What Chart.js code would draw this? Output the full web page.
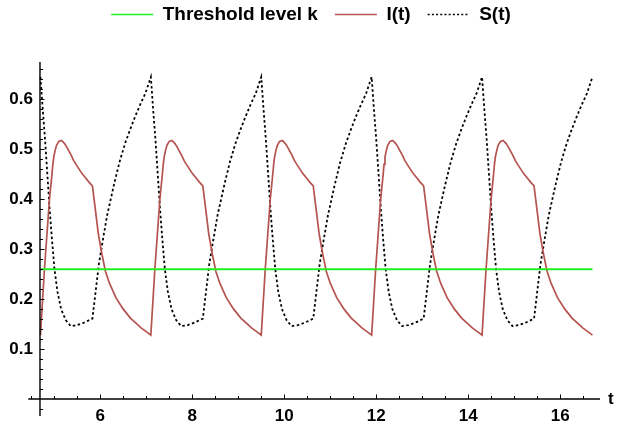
<!DOCTYPE html>
<html>
<head>
<meta charset="utf-8">
<script src="https://cdn.jsdelivr.net/npm/chart.js@4.4.1/dist/chart.umd.min.js"></script>
<style>
html,body{margin:0;padding:0;background:#fff;}
#wrap{width:617px;height:428px;}
</style>
</head>
<body>
<div id="wrap"><canvas id="c" width="617" height="428"></canvas></div>
<script>
// ---- data ----
const tI = [
 4.7, 4.787, 4.896, 4.95, 4.97, 4.99, 5.02, 5.05, 5.10, 5.157, 5.22, 5.27, 5.31, 5.37, 5.42, 5.48, 5.53, 5.60, 5.68, 5.75, 5.83, 5.90, 5.96, 6.037, 6.113, 6.20, 6.34, 6.50, 6.656, 6.80, 6.895, 7.00,
 7.1, 7.187, 7.296, 7.35, 7.37, 7.39, 7.42, 7.45, 7.50, 7.557, 7.62, 7.67, 7.71, 7.77, 7.82, 7.88, 7.93, 8.00, 8.08, 8.15, 8.23, 8.30, 8.36, 8.437, 8.513, 8.60, 8.74, 8.90, 9.056, 9.20, 9.295, 9.40,
 9.5, 9.587, 9.696, 9.75, 9.77, 9.79, 9.82, 9.85, 9.90, 9.957, 10.02, 10.07, 10.11, 10.17, 10.22, 10.28, 10.33, 10.40, 10.48, 10.55, 10.63, 10.70, 10.76, 10.837, 10.913, 11.00, 11.14, 11.30, 11.456, 11.60, 11.695, 11.80,
 11.9, 11.987, 12.096, 12.15, 12.17, 12.19, 12.22, 12.25, 12.30, 12.357, 12.42, 12.47, 12.51, 12.57, 12.62, 12.68, 12.73, 12.80, 12.88, 12.95, 13.03, 13.10, 13.16, 13.237, 13.313, 13.40, 13.54, 13.70, 13.856, 14.00, 14.095, 14.20,
 14.3, 14.387, 14.496, 14.55, 14.57, 14.59, 14.62, 14.65, 14.70, 14.757, 14.82, 14.87, 14.91, 14.97, 15.02, 15.08, 15.13, 15.20, 15.28, 15.35, 15.43, 15.50, 15.56, 15.637, 15.713, 15.80, 15.94, 16.10, 16.256, 16.40, 16.495, 16.60,
 16.7
];
const iValues = [
 0.128, 0.26, 0.40, 0.45, 0.47, 0.485, 0.498, 0.508, 0.516, 0.518, 0.512, 0.505, 0.498, 0.488, 0.478, 0.469, 0.462, 0.452, 0.443, 0.435, 0.427, 0.375, 0.33, 0.29, 0.256, 0.232, 0.203, 0.18, 0.162, 0.15, 0.142, 0.135,
 0.128, 0.26, 0.40, 0.45, 0.47, 0.485, 0.498, 0.508, 0.516, 0.518, 0.512, 0.505, 0.498, 0.488, 0.478, 0.469, 0.462, 0.452, 0.443, 0.435, 0.427, 0.375, 0.33, 0.29, 0.256, 0.232, 0.203, 0.18, 0.162, 0.15, 0.142, 0.135,
 0.128, 0.26, 0.40, 0.45, 0.47, 0.485, 0.498, 0.508, 0.516, 0.518, 0.512, 0.505, 0.498, 0.488, 0.478, 0.469, 0.462, 0.452, 0.443, 0.435, 0.427, 0.375, 0.33, 0.29, 0.256, 0.232, 0.203, 0.18, 0.162, 0.15, 0.142, 0.135,
 0.128, 0.26, 0.40, 0.45, 0.47, 0.485, 0.498, 0.508, 0.516, 0.518, 0.512, 0.505, 0.498, 0.488, 0.478, 0.469, 0.462, 0.452, 0.443, 0.435, 0.427, 0.375, 0.33, 0.29, 0.256, 0.232, 0.203, 0.18, 0.162, 0.15, 0.142, 0.135,
 0.128, 0.26, 0.40, 0.45, 0.47, 0.485, 0.498, 0.508, 0.516, 0.518, 0.512, 0.505, 0.498, 0.488, 0.478, 0.469, 0.462, 0.452, 0.443, 0.435, 0.427, 0.375, 0.33, 0.29, 0.256, 0.232, 0.203, 0.18, 0.162, 0.15, 0.142, 0.135,
 0.128
];
const tS = [
 4.7, 4.75, 4.8, 4.865, 4.9, 4.95, 5.005, 5.07, 5.15, 5.25, 5.36, 5.5, 5.65, 5.83, 5.97, 6.06, 6.15, 6.30, 6.42, 6.54, 6.65, 6.76, 6.87, 6.98,
 7.1, 7.15, 7.2, 7.265, 7.3, 7.35, 7.405, 7.47, 7.55, 7.65, 7.76, 7.9, 8.05, 8.23, 8.37, 8.46, 8.55, 8.70, 8.82, 8.94, 9.05, 9.16, 9.27, 9.38,
 9.5, 9.55, 9.6, 9.665, 9.7, 9.75, 9.805, 9.87, 9.95, 10.05, 10.16, 10.3, 10.45, 10.63, 10.77, 10.86, 10.95, 11.10, 11.22, 11.34, 11.45, 11.56, 11.67, 11.78,
 11.9, 11.95, 12.0, 12.065, 12.1, 12.15, 12.205, 12.27, 12.35, 12.45, 12.56, 12.7, 12.85, 13.03, 13.17, 13.26, 13.35, 13.50, 13.62, 13.74, 13.85, 13.96, 14.07, 14.18,
 14.3, 14.35, 14.4, 14.465, 14.5, 14.55, 14.605, 14.67, 14.75, 14.85, 14.96, 15.1, 15.25, 15.43, 15.57, 15.66, 15.75, 15.90, 16.02, 16.14, 16.25, 16.36, 16.47, 16.58,
 16.7
];
const sValues = [
 0.645, 0.58, 0.52, 0.43, 0.38, 0.32, 0.26, 0.215, 0.18, 0.158, 0.146, 0.148, 0.153, 0.161, 0.27, 0.32, 0.368, 0.43, 0.475, 0.512, 0.54, 0.566, 0.59, 0.612,
 0.645, 0.58, 0.52, 0.43, 0.38, 0.32, 0.26, 0.215, 0.18, 0.158, 0.146, 0.148, 0.153, 0.161, 0.27, 0.32, 0.368, 0.43, 0.475, 0.512, 0.54, 0.566, 0.59, 0.612,
 0.645, 0.58, 0.52, 0.43, 0.38, 0.32, 0.26, 0.215, 0.18, 0.158, 0.146, 0.148, 0.153, 0.161, 0.27, 0.32, 0.368, 0.43, 0.475, 0.512, 0.54, 0.566, 0.59, 0.612,
 0.645, 0.58, 0.52, 0.43, 0.38, 0.32, 0.26, 0.215, 0.18, 0.158, 0.146, 0.148, 0.153, 0.161, 0.27, 0.32, 0.368, 0.43, 0.475, 0.512, 0.54, 0.566, 0.59, 0.612,
 0.645, 0.58, 0.52, 0.43, 0.38, 0.32, 0.26, 0.215, 0.18, 0.158, 0.146, 0.148, 0.153, 0.161, 0.27, 0.32, 0.368, 0.43, 0.475, 0.512, 0.54, 0.566, 0.59, 0.612,
 0.645
];
const thresholdK = 0.26;
const tRange = [4.7, 16.7];
const xTickLabels = [6, 8, 10, 12, 14, 16];
const yTickLabels = [0.1, 0.2, 0.3, 0.4, 0.5, 0.6];
const xMinorTicks = [4.5,5,5.5,6,6.5,7,7.5,8,8.5,9,9.5,10,10.5,11,11.5,12,12.5,13,13.5,14,14.5,15,15.5,16,16.5];
const yMinorTicks = [-0.02,0.02,0.04,0.06,0.08,0.1,0.12,0.14,0.16,0.18,0.2,0.22,0.24,0.26,0.28,0.3,0.32,0.34,0.36,0.38,0.4,0.42,0.44,0.46,0.48,0.5,0.52,0.54,0.56,0.58,0.6,0.62,0.64,0.66];
const seriesNames = ['Threshold level k', 'I(t)', 'S(t)'];
const axisOrigin = {x: 4.69, y: 0};
const axisExtent = {xFrom: 4.435, xTo: 16.864, yFrom: -0.034, yTo: 0.675};

// ---- build ----
const pts = (xs, ys) => xs.map((x, i) => ({x, y: ys[i]}));
const FONT = "'Liberation Sans', Arial, sans-serif";
const LEGEND_SHIFT = 11;

const axesPlugin = {
  id: 'mmaAxes',
  afterDatasetsDraw(chart) {
    const {ctx, scales: {x, y}} = chart;
    const x0 = x.getPixelForValue(axisOrigin.x);
    const y0 = y.getPixelForValue(axisOrigin.y);
    const xa = x.getPixelForValue(axisExtent.xFrom), xb = x.getPixelForValue(axisExtent.xTo);
    const ya = y.getPixelForValue(axisExtent.yFrom), yb = y.getPixelForValue(axisExtent.yTo);
    ctx.save();
    ctx.strokeStyle = '#000';
    ctx.lineWidth = 1.4;
    ctx.beginPath();
    ctx.moveTo(xa, y0); ctx.lineTo(xb, y0);
    ctx.moveTo(x0, ya); ctx.lineTo(x0, yb);
    ctx.stroke();
    ctx.lineWidth = 1;
    ctx.beginPath();
    xMinorTicks.forEach(v => {
      const px = Math.round(x.getPixelForValue(v)) + 0.5;
      const len = xTickLabels.includes(v) ? 4.5 : 3;
      ctx.moveTo(px, y0); ctx.lineTo(px, y0 - len);
    });
    yMinorTicks.forEach(v => {
      const py = Math.round(y.getPixelForValue(v)) + 0.5;
      const len = yTickLabels.some(t => Math.abs(t - v) < 1e-9) ? 4.5 : 3;
      ctx.moveTo(x0, py); ctx.lineTo(x0 + len, py);
    });
    ctx.stroke();
    ctx.fillStyle = '#000';
    ctx.font = 'bold 17px ' + FONT;
    ctx.textAlign = 'left';
    ctx.textBaseline = 'middle';
    ctx.fillText('t', xb + 8, y0);
    ctx.restore();
  }
};

const legendSpacer = {
  id: 'legendSpacer',
  beforeInit(chart) {
    const lg = chart.legend;
    const orig = lg.fit;
    lg.fit = function () { orig.call(this); this.height = 74; };
  },
  afterLayout(chart) {
    const lg = chart.legend;
    lg.left += LEGEND_SHIFT; lg.right += LEGEND_SHIFT;
  }
};

new Chart(document.getElementById('c'), {
  type: 'scatter',
  data: {
    datasets: [
      {
        label: seriesNames[0],
        data: pts(tRange, [thresholdK, thresholdK]),
        showLine: true, borderColor: '#22ee22', backgroundColor: '#22ee22',
        borderWidth: 2, pointRadius: 0, tension: 0
      },
      {
        label: seriesNames[1],
        data: pts(tI, iValues),
        showLine: true, borderColor: '#b5534f', backgroundColor: '#b5534f',
        borderWidth: 1.7, pointRadius: 0, tension: 0
      },
      {
        label: seriesNames[2],
        data: pts(tS, sValues),
        showLine: true, borderColor: '#000', backgroundColor: '#000',
        borderWidth: 1.8, borderDash: [2.5, 2.5], pointRadius: 0, tension: 0
      }
    ]
  },
  options: {
    responsive: false,
    animation: false,
    devicePixelRatio: 1,
    layout: {padding: {left: 0, right: 17, top: -12, bottom: 0}},
    plugins: {
      legend: {
        position: 'top',
        align: 'center',
        labels: {
          usePointStyle: true,
          pointStyle: 'line',
          pointStyleWidth: 42,
          boxWidth: 42,
          boxHeight: 19,
          padding: 17,
          color: '#000',
          font: {family: FONT, size: 19, weight: 'bold'},
          generateLabels(chart) {
            const items = Chart.defaults.plugins.legend.labels.generateLabels(chart);
            items.forEach((it, i) => {
              const ds = chart.data.datasets[i];
              it.strokeStyle = ds.borderColor;
              it.lineWidth = 1.6;
              it.lineDash = ds.borderDash ? [2, 2.2] : [];
            });
            return items;
          }
        }
      },
      tooltip: {enabled: false}
    },
    scales: {
      x: {
        type: 'linear', position: 'bottom',
        min: 4.56, max: 16.864,
        grid: {display: false, drawTicks: false},
        border: {display: false},
        afterFit: s => { s.height = 23; },
        afterBuildTicks: s => { s.ticks = xTickLabels.map(v => ({value: v})); },
        ticks: {
          padding: 1, color: '#000', maxRotation: 0, autoSkip: false,
          font: {family: FONT, size: 17, weight: 'bold'},
          callback: v => String(v)
        }
      },
      y: {
        type: 'linear', position: 'left',
        min: -0.012, max: 0.675,
        grid: {display: false, drawTicks: false},
        border: {display: false},
        afterFit: s => { s.width = 34; },
        afterBuildTicks: s => { s.ticks = yTickLabels.map(v => ({value: v})); },
        ticks: {
          padding: 1, color: '#000', autoSkip: false,
          font: {family: FONT, size: 17, weight: 'bold'},
          callback: v => v.toFixed(1)
        }
      }
    }
  },
  plugins: [axesPlugin, legendSpacer]
});
</script>
</body>
</html>
